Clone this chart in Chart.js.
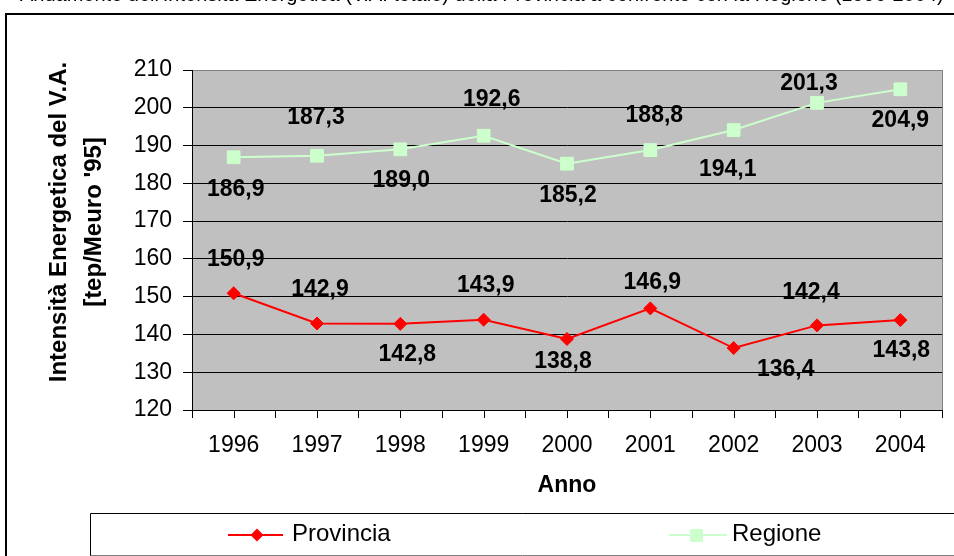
<!DOCTYPE html>
<html lang="it">
<head>
<meta charset="utf-8">
<title>Intensità Energetica del V.A.</title>
<script src="https://cdn.jsdelivr.net/npm/chart.js@4.4.1/dist/chart.umd.min.js"></script>
<style>
    html, body { margin: 0; padding: 0; background: #fff; }
    #wrap { width: 954px; height: 556px; position: relative; overflow: hidden; }
</style>
</head>
<body>
<div id="wrap"><canvas id="grafico" width="954" height="556"></canvas></div>
<script>
/* global Chart */
var anni = ['1996', '1997', '1998', '1999', '2000', '2001', '2002', '2003', '2004'];
var provincia = [150.9, 142.9, 142.8, 143.9, 138.8, 146.9, 136.4, 142.4, 143.8];
var regione = [186.9, 187.3, 189.0, 192.6, 185.2, 188.8, 194.1, 201.3, 204.9];
var yMin = 120;
var yMax = 210;
var yStep = 10;

var titolo = "Andamento dell'Intensità Energetica (V.A. totale) della Provincia a confronto con la Regione (1996-2004)";
var titoloY = ['Intensità Energetica del V.A.', "[tep/Meuro '95]"];
var titoloX = 'Anno';

// spostamento delle etichette dal punto (px), come nel foglio originale
var spostProvincia = { dx: [2, 3, 7, 2, -4, 2, 52, -6, 1], dy: [-34, -34, 31, -34, 23, -26, 22, -33, 31] };
var spostRegione = { dx: [2, -1, 1, 8, 1, 4, -6, -8, 0], dy: [32, -38, 31, -36, 32, -34, 40, -19, 31] };

(function () {
    'use strict';

    var FONT = "'Liberation Sans', Arial, sans-serif";
    var ROSSO = '#ff0000';
    var VERDE = '#ccffcc';
    var GRIGIO = '#c0c0c0';

    Chart.defaults.font.family = FONT;
    Chart.defaults.color = '#000';

    function fmt(v) {
        return v.toFixed(1).replace('.', ',');
    }

    var sfondo = {
        id: 'sfondo',
        beforeDraw: function (chart) {
            var a = chart.chartArea;
            var ctx = chart.ctx;
            ctx.save();
            ctx.fillStyle = GRIGIO;
            ctx.fillRect(a.left, a.top, a.right - a.left, a.bottom - a.top);
            ctx.restore();
        }
    };

    var etichette = {
        id: 'etichette',
        afterDatasetsDraw: function (chart) {
            var ctx = chart.ctx;
            var spost = [spostProvincia, spostRegione];
            ctx.save();
            ctx.font = 'bold 23px ' + FONT;
            ctx.fillStyle = '#000';
            ctx.textAlign = 'center';
            ctx.textBaseline = 'middle';
            chart.data.datasets.forEach(function (ds, i) {
                var meta = chart.getDatasetMeta(i);
                meta.data.forEach(function (pt, j) {
                    ctx.fillText(fmt(ds.data[j]), pt.x + spost[i].dx[j], pt.y + spost[i].dy[j]);
                });
            });
            ctx.restore();
        }
    };

    function rombo(ctx, x, y, r) {
        ctx.beginPath();
        ctx.moveTo(x, y - r);
        ctx.lineTo(x + r, y);
        ctx.lineTo(x, y + r);
        ctx.lineTo(x - r, y);
        ctx.closePath();
        ctx.fill();
    }

    var cornice = {
        id: 'cornice',
        afterDraw: function (chart) {
            var ctx = chart.ctx;
            var a = chart.chartArea;
            var xs = chart.scales.x;
            var i;
            ctx.save();

            // titolo tagliato in alto
            ctx.fillStyle = '#000';
            ctx.font = '20px ' + FONT;
            ctx.textAlign = 'left';
            ctx.textBaseline = 'alphabetic';
            ctx.fillText(titolo, 20, 1, 925);

            // cornice del grafico
            ctx.strokeStyle = '#000';
            ctx.lineWidth = 2;
            ctx.beginPath();
            ctx.moveTo(6, 556);
            ctx.lineTo(6, 14);
            ctx.lineTo(954, 14);
            ctx.stroke();

            // bordo destro dell'area
            ctx.strokeStyle = '#808080';
            ctx.lineWidth = 1;
            ctx.beginPath();
            ctx.moveTo(Math.round(a.right) + 0.5, a.top);
            ctx.lineTo(Math.round(a.right) + 0.5, a.bottom);
            ctx.stroke();

            // tacche al centro delle categorie
            ctx.strokeStyle = '#000';
            ctx.beginPath();
            for (i = 0; i < anni.length; i++) {
                var px = Math.round(xs.getPixelForValue(i)) + 0.5;
                ctx.moveTo(px, a.bottom);
                ctx.lineTo(px, a.bottom + 8);
            }
            ctx.stroke();

            // titolo asse Y
            ctx.font = 'bold 24px ' + FONT;
            ctx.textAlign = 'center';
            ctx.textBaseline = 'alphabetic';
            [66, 101].forEach(function (bx, k) {
                ctx.save();
                ctx.translate(bx, 222);
                ctx.rotate(-Math.PI / 2);
                ctx.fillText(titoloY[k], 0, 0);
                ctx.restore();
            });

            // legenda
            ctx.lineWidth = 1;
            ctx.strokeStyle = '#000';
            ctx.beginPath();
            ctx.moveTo(90.5, 556);
            ctx.lineTo(90.5, 513.5);
            ctx.lineTo(954, 513.5);
            ctx.stroke();
            ctx.strokeStyle = '#808080';
            ctx.beginPath();
            ctx.moveTo(90.5, 555.5);
            ctx.lineTo(954, 555.5);
            ctx.stroke();

            ctx.lineWidth = 2;
            ctx.strokeStyle = ROSSO;
            ctx.beginPath();
            ctx.moveTo(228, 535);
            ctx.lineTo(283, 535);
            ctx.stroke();
            ctx.fillStyle = ROSSO;
            rombo(ctx, 257, 535, 6.5);

            ctx.strokeStyle = VERDE;
            ctx.beginPath();
            ctx.moveTo(669, 535);
            ctx.lineTo(727, 535);
            ctx.stroke();
            ctx.fillStyle = VERDE;
            ctx.fillRect(690, 529, 13, 13);

            ctx.fillStyle = '#000';
            ctx.font = '24px ' + FONT;
            ctx.textAlign = 'left';
            ctx.textBaseline = 'middle';
            ctx.fillText('Provincia', 292, 534);
            ctx.fillText('Regione', 732, 534);

            ctx.restore();
        }
    };

    function init() {
        var canvas = document.getElementById('grafico');
        new Chart(canvas.getContext('2d'), {
            type: 'line',
            data: {
                labels: anni,
                datasets: [
                    {
                        label: 'Provincia',
                        data: provincia,
                        borderColor: ROSSO,
                        backgroundColor: ROSSO,
                        borderWidth: 2,
                        pointStyle: 'rectRot',
                        pointRadius: 6.5,
                        pointBorderWidth: 1,
                        tension: 0
                    },
                    {
                        label: 'Regione',
                        data: regione,
                        borderColor: VERDE,
                        backgroundColor: VERDE,
                        borderWidth: 2,
                        pointStyle: 'rect',
                        pointRadius: 9,
                        pointBorderWidth: 1,
                        tension: 0
                    }
                ]
            },
            options: {
                responsive: false,
                animation: false,
                devicePixelRatio: 1,
                layout: { padding: { top: 70, right: 12, left: 0, bottom: 43 } },
                plugins: {
                    legend: { display: false },
                    title: { display: false },
                    tooltip: { enabled: false }
                },
                scales: {
                    x: {
                        type: 'category',
                        offset: true,
                        afterFit: function (s) { s.height = 103; },
                        grid: {
                            offset: true,
                            drawOnChartArea: false,
                            drawTicks: true,
                            tickLength: 8,
                            tickColor: '#000'
                        },
                        border: { color: '#000', width: 1 },
                        ticks: {
                            autoSkip: false,
                            maxRotation: 0,
                            padding: 14,
                            font: { size: 23 }
                        },
                        title: {
                            display: true,
                            text: titoloX,
                            font: { size: 23, weight: 'bold' },
                            padding: { top: 0, bottom: 14 }
                        }
                    },
                    y: {
                        min: yMin,
                        max: yMax,
                        afterFit: function (s) { s.width = 192; },
                        grid: {
                            color: function (c) {
                                return c.tick && c.tick.value === yMax ? '#808080' : '#000';
                            },
                            lineWidth: 1,
                            tickLength: 9,
                            tickColor: '#000'
                        },
                        border: { color: '#000', width: 1 },
                        ticks: {
                            stepSize: yStep,
                            padding: 11,
                            font: { size: 23 }
                        }
                    }
                }
            },
            plugins: [sfondo, etichette, cornice]
        });
    }

    if (document.readyState === 'loading') {
        document.addEventListener('DOMContentLoaded', init);
    } else {
        init();
    }
})();
</script>
</body>
</html>
